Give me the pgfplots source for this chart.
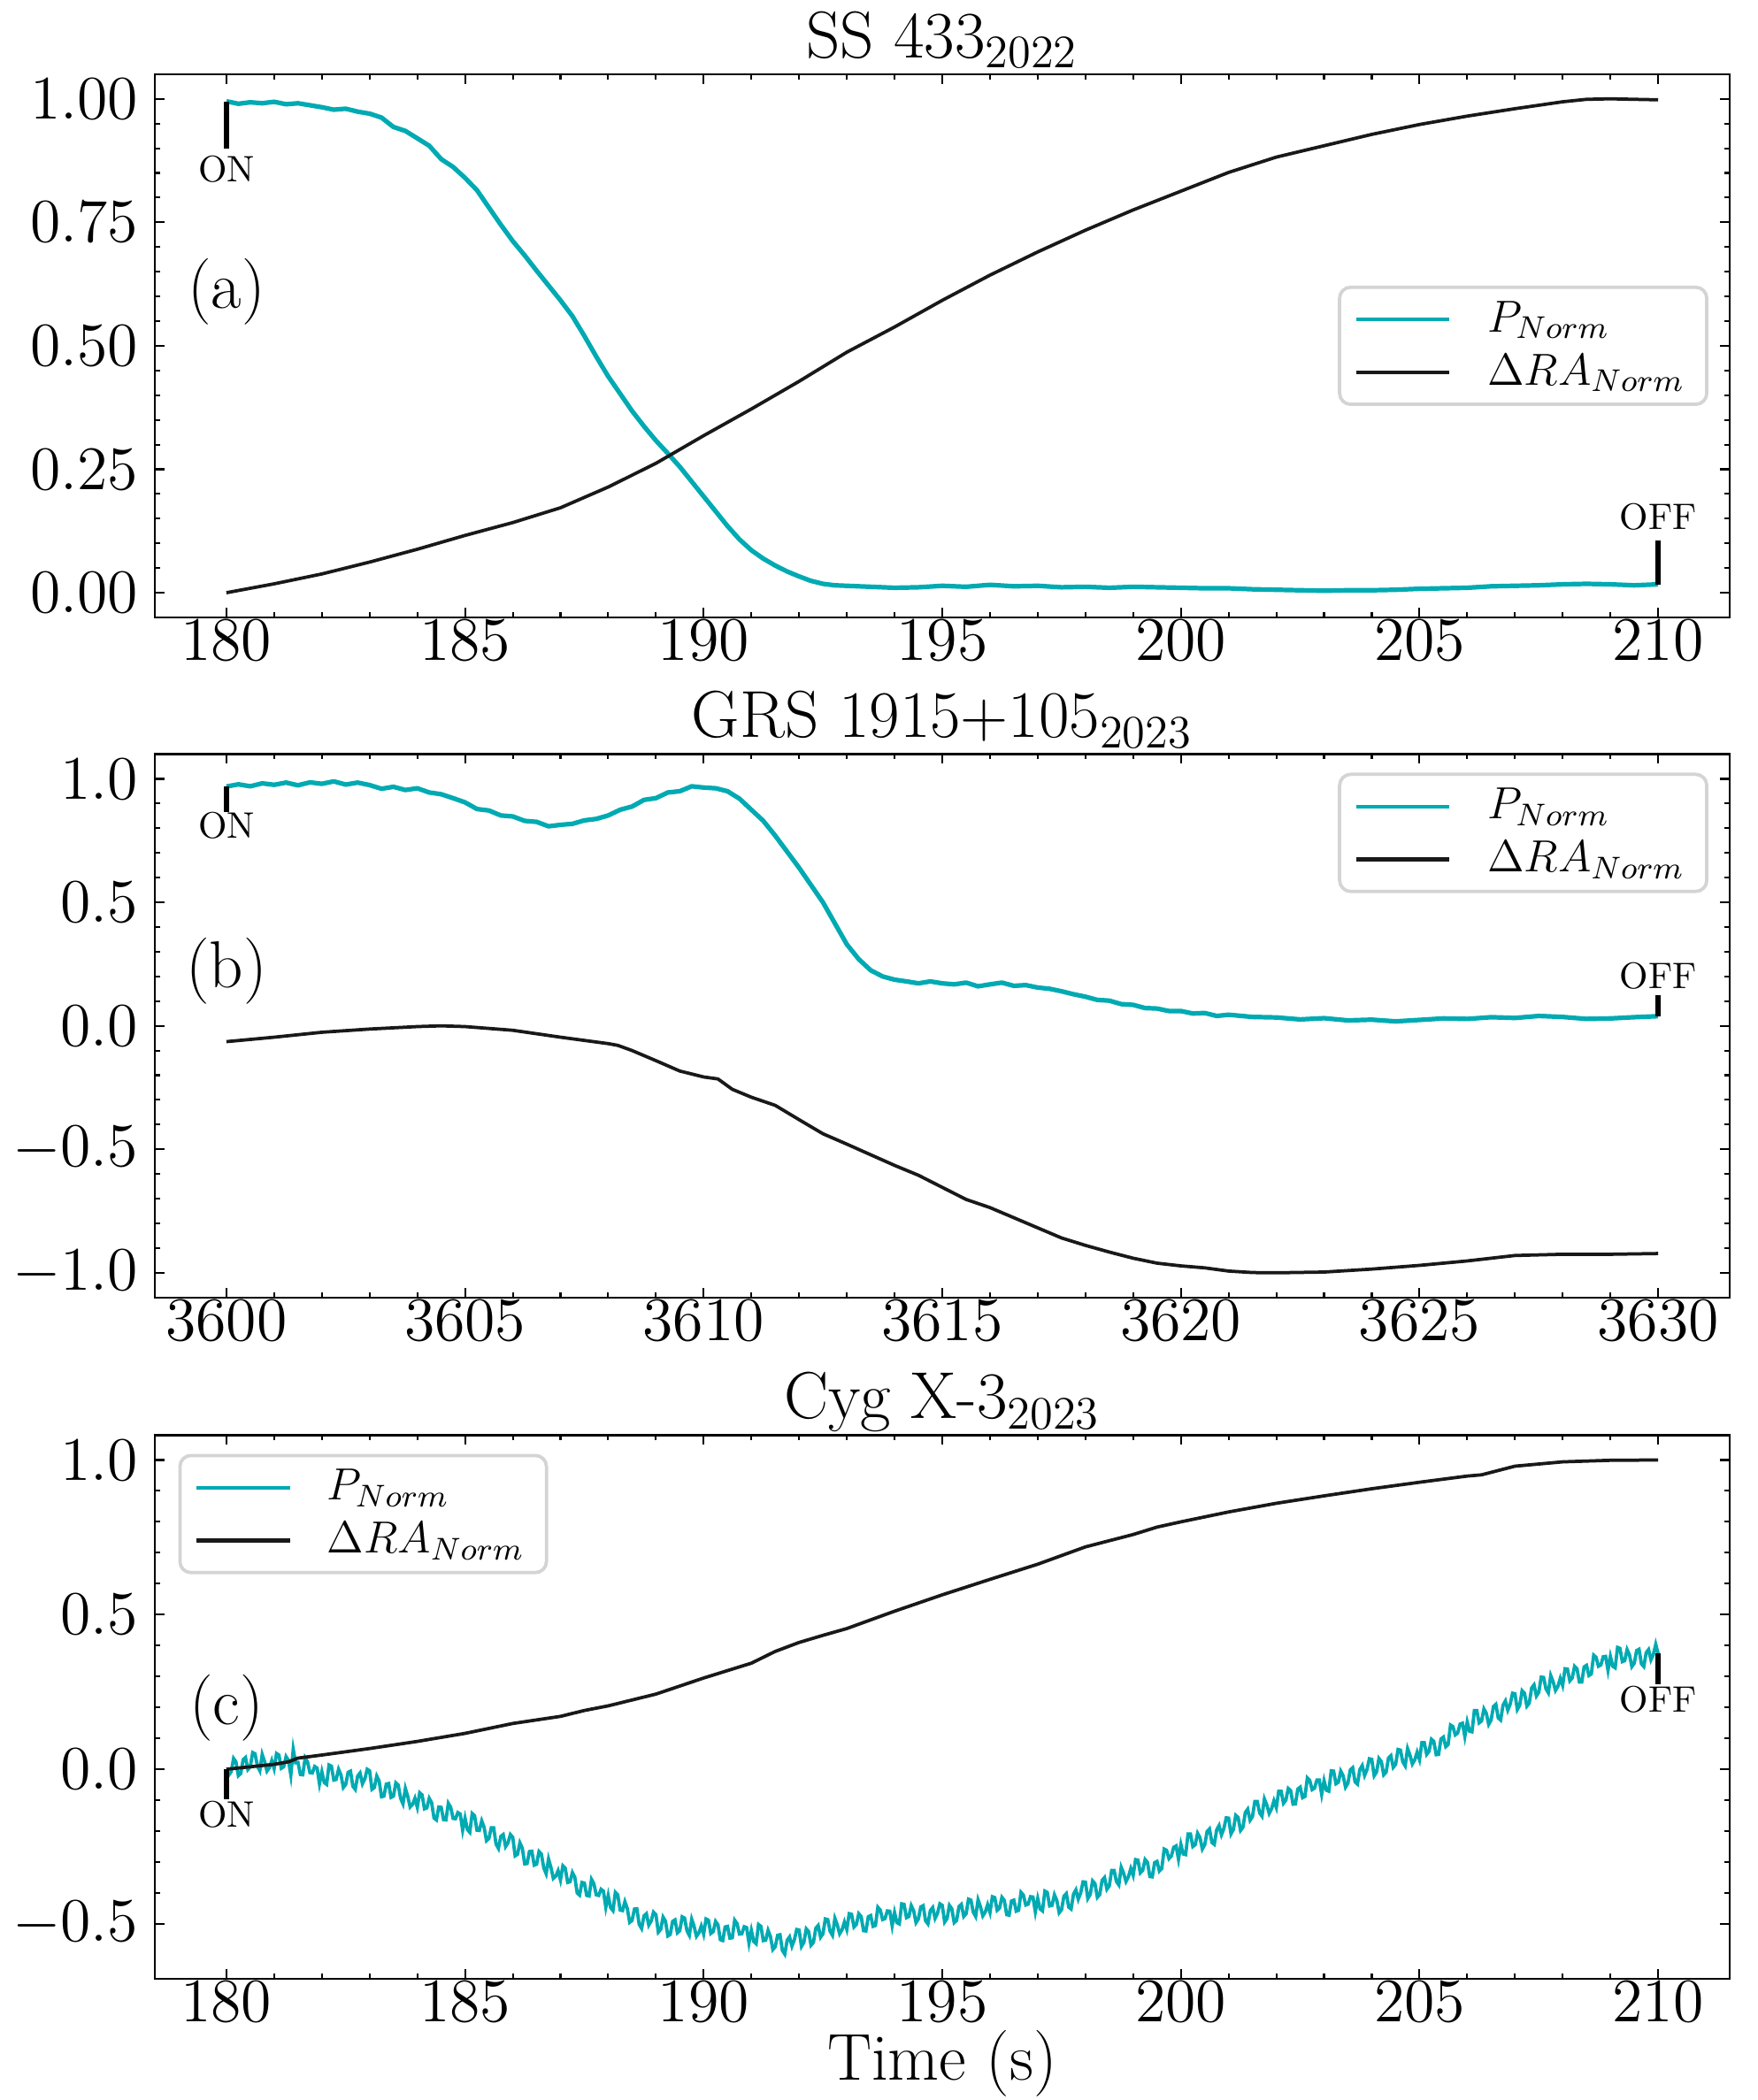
\RequirePackage{fix-cm}
\documentclass[border=0pt]{standalone}
\usepackage{pgfplots}
\pgfplotsset{compat=1.18}
\definecolor{pcyan}{RGB}{0,170,178}
\definecolor{rablack}{RGB}{25,25,25}
\pgfplotsset{
  panel/.style={
    scale only axis, width=427.2pt, height=147.4pt, anchor=south west,
    axis line style={line width=0.55pt, black},
    tick style={line width=0.5pt, black},
    major tick length=2.6pt, minor tick length=1.4pt,
    tick align=inside, xtick pos=both, ytick pos=both,
    minor x tick num=4, minor y tick num=4,
    ticklabel style={font=\fontsize{16.8}{19}\selectfont},
    xticklabel style={anchor=base, yshift=-11.6pt, inner sep=0pt},
    yticklabel style={anchor=east, inner sep=0pt, xshift=-4.3pt},
    title style={font=\fontsize{18}{21}\selectfont, at={(0.5,1)}, anchor=base, yshift=-1.5pt, inner sep=0pt},
    xlabel style={font=\fontsize{18}{21}\selectfont, at={(0.5,0)}, anchor=base, yshift=-27.5pt, inner sep=0pt},
    /pgf/number format/1000 sep={},
    legend style={draw=black!17, line width=0.9pt, rounded corners=3pt, fill=white, fill opacity=0.8, text opacity=1,
      font=\fontsize{12.2}{14}\selectfont, inner xsep=4pt, inner ysep=1.8pt, row sep=0.5pt, cells={anchor=west}},
    legend image code/.code={\draw[#1, line width=1pt] (0pt,0pt) -- (25.3pt,0pt); \path (33pt,0pt);},
  },
  pline/.style={color=pcyan, line width=1.25pt, line join=round},
  rline/.style={color=rablack, line width=0.9pt, line join=round},
  mk/.style={black, line width=1.3pt, forget plot},
}
\newcommand{\onoff}{\fontsize{10}{12}\selectfont}
\newcommand{\plab}{\fontsize{18}{21}\selectfont}
\begin{document}
\begin{tikzpicture}
\path[use as bounding box] (0pt,0pt) rectangle (476.64pt,569.76pt);

% ---------------- panel (a)
\begin{axis}[panel, at={(42pt,402.24pt)},
  xmin=178.5, xmax=211.5, ymin=-0.05, ymax=1.05,
  xtick={180,185,...,210}, ytick={0,0.25,0.5,0.75,1},
  yticklabel style={/pgf/number format/.cd, fixed, fixed zerofill, precision=2},
  title={SS 433$_{2022}$},
  legend style={at={(0.9865,0.5)}, anchor=east}]
\addplot[pline] coordinates {
(180.0,0.995) (180.25,0.990) (180.5,0.993) (180.75,0.991) (181.0,0.994) (181.25,0.989) (181.5,0.991) (181.75,0.987)
(182.0,0.983) (182.25,0.978) (182.5,0.980) (182.75,0.974) (183.0,0.970) (183.25,0.962) (183.5,0.943) (183.75,0.935)
(184.0,0.920) (184.25,0.905) (184.5,0.878) (184.75,0.862) (185.0,0.840) (185.25,0.815) (185.5,0.780) (185.75,0.745)
(186.0,0.712) (186.25,0.683) (186.5,0.652) (186.75,0.622) (187.0,0.592) (187.25,0.560) (187.5,0.520) (187.75,0.478)
(188.0,0.438) (188.25,0.403) (188.5,0.368) (188.75,0.337) (189.0,0.308) (189.25,0.282) (189.5,0.255) (189.75,0.225)
(190.0,0.195) (190.25,0.165) (190.5,0.135) (190.75,0.108) (191.0,0.086) (191.25,0.069) (191.5,0.055) (191.75,0.043)
(192.0,0.033) (192.25,0.024) (192.5,0.018) (192.75,0.015) (193.0,0.014) (193.5,0.012) (194.0,0.010) (194.5,0.011)
(195.0,0.014) (195.5,0.012) (196.0,0.016) (196.5,0.013) (197.0,0.014) (197.5,0.011) (198.0,0.012) (198.5,0.010)
(199.0,0.012) (199.5,0.011) (200.0,0.010) (200.5,0.009) (201.0,0.009) (201.5,0.007) (202.0,0.006) (202.5,0.005)
(203.0,0.004) (203.5,0.005) (204.0,0.005) (204.5,0.006) (205.0,0.008) (205.5,0.009) (206.0,0.010) (206.5,0.013)
(207.0,0.014) (207.5,0.015) (208.0,0.017) (208.5,0.018) (209.0,0.017) (209.5,0.015) (210.0,0.017)
};
\addlegendentry{$P_{Norm}$}
\addplot[rline] coordinates {
(180,0.0) (181,0.018) (182,0.038) (183,0.062) (184,0.088) (185,0.116) (186,0.142) (187,0.172) (188,0.214)
(189,0.262) (190,0.318) (191,0.372) (192,0.428) (193,0.487) (194,0.538) (195,0.592) (196,0.643) (197,0.690)
(198,0.734) (199,0.775) (200,0.813) (201,0.851) (202,0.882) (203,0.905) (204,0.928) (205,0.948) (206,0.965)
(207,0.980) (208,0.994) (208.5,0.999) (209,1.0) (210,0.998)
};
\addlegendentry{$\Delta RA_{Norm}$}
\addplot[mk] coordinates {(180,0.900) (180,0.995)};
\addplot[mk] coordinates {(210,0.017) (210,0.105)};
\node[font=\onoff] at (axis cs:180,0.858) {ON};
\node[font=\onoff] at (axis cs:210,0.154) {OFF};
\node[font=\plab] at (axis cs:180,0.609) {(a)};
\end{axis}

% ---------------- panel (b)
\begin{axis}[panel, at={(42pt,217.73pt)},
  xmin=3598.5, xmax=3631.5, ymin=-1.1, ymax=1.1,
  xtick={3600,3605,...,3630}, ytick={-1,-0.5,0,0.5,1},
  yticklabel style={/pgf/number format/.cd, fixed, fixed zerofill, precision=1},
  title={GRS 1915+105$_{2023}$},
  legend style={at={(0.9865,0.966)}, anchor=north east}]
\addplot[pline] coordinates {
(3600.0,0.969) (3600.25,0.978) (3600.5,0.970) (3600.75,0.982) (3601.0,0.976) (3601.25,0.985) (3601.5,0.974) (3601.75,0.986)
(3602.0,0.980) (3602.25,0.990) (3602.5,0.977) (3602.75,0.985) (3603.0,0.975) (3603.25,0.960) (3603.5,0.968) (3603.75,0.955)
(3604.0,0.962) (3604.25,0.945) (3604.5,0.938) (3604.75,0.922) (3605.0,0.905) (3605.25,0.878) (3605.5,0.872) (3605.75,0.852)
(3606.0,0.848) (3606.25,0.830) (3606.5,0.826) (3606.75,0.808) (3607.0,0.814) (3607.25,0.818) (3607.5,0.832) (3607.75,0.838)
(3608.0,0.852) (3608.25,0.875) (3608.5,0.888) (3608.75,0.915) (3609.0,0.922) (3609.25,0.945) (3609.5,0.950) (3609.75,0.970)
(3610.0,0.965) (3610.25,0.962) (3610.5,0.950) (3610.75,0.920) (3611.0,0.875) (3611.25,0.830) (3611.5,0.770) (3611.75,0.705)
(3612.0,0.640) (3612.25,0.570) (3612.5,0.500) (3612.75,0.415) (3613.0,0.330) (3613.25,0.270) (3613.5,0.225) (3613.75,0.200)
(3614.0,0.187) (3614.25,0.180) (3614.5,0.172) (3614.75,0.180) (3615.0,0.172) (3615.25,0.168) (3615.5,0.175) (3615.75,0.160)
(3616.0,0.168) (3616.25,0.175) (3616.5,0.162) (3616.75,0.165) (3617.0,0.155) (3617.25,0.150) (3617.5,0.140) (3617.75,0.128)
(3618.0,0.118) (3618.25,0.105) (3618.5,0.102) (3618.75,0.088) (3619.0,0.085) (3619.25,0.072) (3619.5,0.070) (3619.75,0.060)
(3620.0,0.060) (3620.25,0.050) (3620.5,0.052) (3620.75,0.040) (3621.0,0.045) (3621.5,0.036) (3622.0,0.034) (3622.5,0.026)
(3623.0,0.031) (3623.5,0.022) (3624.0,0.025) (3624.5,0.018) (3625.0,0.024) (3625.5,0.030) (3626.0,0.028) (3626.5,0.035)
(3627.0,0.032) (3627.5,0.040) (3628.0,0.036) (3628.5,0.028) (3629.0,0.030) (3629.5,0.035) (3630.0,0.039)
};
\addlegendentry{$P_{Norm}$}
\addplot[rline] coordinates {
(3600,-0.064) (3601,-0.046) (3602,-0.026) (3603,-0.013) (3604,-0.003) (3604.5,0.0) (3605,-0.003) (3606,-0.018)
(3607,-0.046) (3608,-0.072) (3608.2,-0.079) (3608.5,-0.100) (3609,-0.141) (3609.5,-0.183) (3610,-0.207) (3610.3,-0.215)
(3610.6,-0.257) (3611,-0.289) (3611.5,-0.322) (3612,-0.380) (3612.5,-0.437) (3613,-0.479) (3613.5,-0.522) (3614,-0.565)
(3614.5,-0.605) (3615,-0.654) (3615.5,-0.703) (3616,-0.736) (3616.5,-0.777) (3617,-0.818) (3617.5,-0.859) (3618,-0.889)
(3618.5,-0.916) (3619,-0.941) (3619.5,-0.961) (3620,-0.972) (3620.5,-0.980) (3621,-0.993) (3621.5,-0.999) (3622,-1.0)
(3623,-0.997) (3624,-0.985) (3625,-0.970) (3626,-0.952) (3627,-0.930) (3628,-0.925) (3629,-0.925) (3630,-0.922)
};
\addlegendentry{$\Delta RA_{Norm}$}
\addplot[mk] coordinates {(3600,0.865) (3600,0.969)};
\addplot[mk] coordinates {(3630,0.039) (3630,0.125)};
\node[font=\onoff] at (axis cs:3600,0.81) {ON};
\node[font=\onoff] at (axis cs:3630,0.203) {OFF};
\node[font=\plab] at (axis cs:3600,0.22) {(b)};
\end{axis}

% ---------------- panel (c)
\begin{axis}[panel, at={(42pt,32.93pt)},
  xmin=178.5, xmax=211.5, ymin=-0.677, ymax=1.0797,
  xtick={180,185,...,210}, ytick={-0.5,0,0.5,1},
  yticklabel style={/pgf/number format/.cd, fixed, fixed zerofill, precision=1},
  title={Cyg X-3$_{2023}$}, xlabel={Time (s)},
  legend style={at={(0.0149,0.966)}, anchor=north west}]
\addplot[pline, line width=0.9pt, line join=miter] coordinates {
(180.0,0.000) (180.05,-0.019) (180.1,-0.008) (180.15,0.035) (180.2,0.024) (180.25,-0.021) (180.3,-0.014) (180.35,0.031) (180.4,0.038) (180.45,-0.001) (180.5,0.008) (180.55,0.054) (180.6,0.050) (180.65,0.010) (180.7,-0.005) (180.75,0.048) (180.8,0.025) (180.85,-0.006) (180.9,0.005) (180.95,0.028)
(181.0,0.002) (181.05,0.051) (181.1,0.046) (181.15,0.003) (181.2,0.008) (181.25,0.041) (181.3,0.029) (181.35,-0.019) (181.4,0.065) (181.45,0.021) (181.5,0.022) (181.55,-0.017) (181.6,-0.018) (181.65,0.037) (181.7,0.024) (181.75,-0.011) (181.8,-0.012) (181.85,0.009) (181.9,0.004) (181.95,-0.047)
(182.0,-0.008) (182.05,-0.043) (182.1,-0.049) (182.15,0.014) (182.2,0.010) (182.25,-0.035) (182.3,-0.033) (182.35,0.000) (182.4,-0.018) (182.45,-0.059) (182.5,-0.049) (182.55,-0.010) (182.6,-0.006) (182.65,-0.055) (182.7,-0.065) (182.75,-0.022) (182.8,-0.012) (182.85,-0.047) (182.9,-0.031) (182.95,0.000)
(183.0,-0.005) (183.05,-0.065) (183.1,-0.059) (183.15,-0.022) (183.2,-0.038) (183.25,-0.089) (183.3,-0.087) (183.35,-0.048) (183.4,-0.046) (183.45,-0.091) (183.5,-0.087) (183.55,-0.044) (183.6,-0.051) (183.65,-0.094) (183.7,-0.112) (183.75,-0.062) (183.8,-0.088) (183.85,-0.122) (183.9,-0.114) (183.95,-0.094)
(184.0,-0.123) (184.05,-0.076) (184.1,-0.083) (184.15,-0.128) (184.2,-0.125) (184.25,-0.094) (184.3,-0.108) (184.35,-0.158) (184.4,-0.164) (184.45,-0.122) (184.5,-0.123) (184.55,-0.163) (184.6,-0.164) (184.65,-0.110) (184.7,-0.123) (184.75,-0.159) (184.8,-0.160) (184.85,-0.140) (184.9,-0.145) (184.95,-0.197)
(185.0,-0.158) (185.05,-0.195) (185.1,-0.204) (185.15,-0.143) (185.2,-0.150) (185.25,-0.197) (185.3,-0.198) (185.35,-0.167) (185.4,-0.188) (185.45,-0.231) (185.5,-0.224) (185.55,-0.189) (185.6,-0.189) (185.65,-0.242) (185.7,-0.256) (185.75,-0.217) (185.8,-0.211) (185.85,-0.250) (185.9,-0.238) (185.95,-0.211)
(186.0,-0.220) (186.05,-0.280) (186.1,-0.275) (186.15,-0.238) (186.2,-0.255) (186.25,-0.306) (186.3,-0.305) (186.35,-0.266) (186.4,-0.265) (186.45,-0.310) (186.5,-0.307) (186.55,-0.266) (186.6,-0.274) (186.65,-0.319) (186.7,-0.338) (186.75,-0.290) (186.8,-0.317) (186.85,-0.353) (186.9,-0.346) (186.95,-0.328)
(187.0,-0.358) (187.05,-0.312) (187.1,-0.320) (187.15,-0.366) (187.2,-0.364) (187.25,-0.334) (187.3,-0.349) (187.35,-0.400) (187.4,-0.407) (187.45,-0.366) (187.5,-0.368) (187.55,-0.408) (187.6,-0.410) (187.65,-0.356) (187.7,-0.370) (187.75,-0.406) (187.8,-0.408) (187.85,-0.388) (187.9,-0.394) (187.95,-0.446)
(188.0,-0.408) (188.05,-0.447) (188.1,-0.457) (188.15,-0.398) (188.2,-0.406) (188.25,-0.455) (188.3,-0.457) (188.35,-0.428) (188.4,-0.450) (188.45,-0.495) (188.5,-0.489) (188.55,-0.452) (188.6,-0.451) (188.65,-0.502) (188.7,-0.515) (188.75,-0.474) (188.8,-0.467) (188.85,-0.504) (188.9,-0.491) (188.95,-0.462)
(189.0,-0.470) (189.05,-0.527) (189.1,-0.518) (189.15,-0.478) (189.2,-0.491) (189.25,-0.539) (189.3,-0.534) (189.35,-0.492) (189.4,-0.487) (189.45,-0.529) (189.5,-0.522) (189.55,-0.477) (189.6,-0.481) (189.65,-0.522) (189.7,-0.537) (189.75,-0.485) (189.8,-0.508) (189.85,-0.540) (189.9,-0.529) (189.95,-0.507)
(190.0,-0.533) (190.05,-0.484) (190.1,-0.488) (190.15,-0.531) (190.2,-0.525) (190.25,-0.492) (190.3,-0.503) (190.35,-0.551) (190.4,-0.554) (190.45,-0.510) (190.5,-0.508) (190.55,-0.546) (190.6,-0.545) (190.65,-0.488) (190.7,-0.499) (190.75,-0.533) (190.8,-0.532) (190.85,-0.509) (190.9,-0.512) (190.95,-0.562)
(191.0,-0.521) (191.05,-0.557) (191.1,-0.564) (191.15,-0.502) (191.2,-0.508) (191.25,-0.554) (191.3,-0.553) (191.35,-0.521) (191.4,-0.541) (191.45,-0.583) (191.5,-0.574) (191.55,-0.537) (191.6,-0.535) (191.65,-0.586) (191.7,-0.598) (191.75,-0.553) (191.8,-0.542) (191.85,-0.572) (191.9,-0.552) (191.95,-0.518)
(192.0,-0.520) (192.05,-0.573) (192.1,-0.560) (192.15,-0.516) (192.2,-0.525) (192.25,-0.569) (192.3,-0.560) (192.35,-0.514) (192.4,-0.505) (192.45,-0.543) (192.5,-0.532) (192.55,-0.484) (192.6,-0.486) (192.65,-0.524) (192.7,-0.537) (192.75,-0.482) (192.8,-0.503) (192.85,-0.532) (192.9,-0.519) (192.95,-0.494)
(193.0,-0.518) (193.05,-0.467) (193.1,-0.469) (193.15,-0.510) (193.2,-0.502) (193.25,-0.467) (193.3,-0.476) (193.35,-0.522) (193.4,-0.523) (193.45,-0.477) (193.5,-0.473) (193.55,-0.508) (193.6,-0.505) (193.65,-0.446) (193.7,-0.455) (193.75,-0.486) (193.8,-0.483) (193.85,-0.458) (193.9,-0.459) (193.95,-0.506)
(194.0,-0.463) (194.05,-0.496) (194.1,-0.500) (194.15,-0.435) (194.2,-0.437) (194.25,-0.480) (194.3,-0.476) (194.35,-0.441) (194.4,-0.457) (194.45,-0.496) (194.5,-0.484) (194.55,-0.445) (194.6,-0.441) (194.65,-0.490) (194.7,-0.500) (194.75,-0.457) (194.8,-0.447) (194.85,-0.482) (194.9,-0.466) (194.95,-0.435)
(195.0,-0.440) (195.05,-0.494) (195.1,-0.483) (195.15,-0.440) (195.2,-0.451) (195.25,-0.496) (195.3,-0.489) (195.35,-0.444) (195.4,-0.437) (195.45,-0.476) (195.5,-0.467) (195.55,-0.420) (195.6,-0.423) (195.65,-0.462) (195.7,-0.476) (195.75,-0.422) (195.8,-0.444) (195.85,-0.474) (195.9,-0.462) (195.95,-0.438)
(196.0,-0.463) (196.05,-0.412) (196.1,-0.415) (196.15,-0.456) (196.2,-0.449) (196.25,-0.414) (196.3,-0.424) (196.35,-0.470) (196.4,-0.472) (196.45,-0.426) (196.5,-0.423) (196.55,-0.459) (196.6,-0.456) (196.65,-0.398) (196.7,-0.407) (196.75,-0.439) (196.8,-0.436) (196.85,-0.412) (196.9,-0.413) (196.95,-0.461)
(197.0,-0.418) (197.05,-0.452) (197.1,-0.458) (197.15,-0.394) (197.2,-0.398) (197.25,-0.442) (197.3,-0.440) (197.35,-0.406) (197.4,-0.424) (197.45,-0.464) (197.5,-0.454) (197.55,-0.410) (197.6,-0.402) (197.65,-0.446) (197.7,-0.452) (197.75,-0.404) (197.8,-0.390) (197.85,-0.420) (197.9,-0.400) (197.95,-0.364)
(198.0,-0.365) (198.05,-0.418) (198.1,-0.405) (198.15,-0.361) (198.2,-0.370) (198.25,-0.414) (198.3,-0.405) (198.35,-0.359) (198.4,-0.350) (198.45,-0.388) (198.5,-0.377) (198.55,-0.327) (198.6,-0.327) (198.65,-0.363) (198.7,-0.374) (198.75,-0.317) (198.8,-0.336) (198.85,-0.363) (198.9,-0.348) (198.95,-0.321)
(199.0,-0.343) (199.05,-0.292) (199.1,-0.294) (199.15,-0.335) (199.2,-0.327) (199.25,-0.292) (199.3,-0.301) (199.35,-0.347) (199.4,-0.348) (199.45,-0.302) (199.5,-0.298) (199.55,-0.329) (199.6,-0.321) (199.65,-0.258) (199.7,-0.262) (199.75,-0.289) (199.8,-0.281) (199.85,-0.252) (199.9,-0.248) (199.95,-0.291)
(200.0,-0.243) (200.05,-0.274) (200.1,-0.276) (200.15,-0.209) (200.2,-0.209) (200.25,-0.250) (200.3,-0.244) (200.35,-0.207) (200.4,-0.221) (200.45,-0.258) (200.5,-0.244) (200.55,-0.201) (200.6,-0.193) (200.65,-0.237) (200.7,-0.243) (200.75,-0.196) (200.8,-0.182) (200.85,-0.212) (200.9,-0.192) (200.95,-0.157)
(201.0,-0.158) (201.05,-0.209) (201.1,-0.195) (201.15,-0.149) (201.2,-0.156) (201.25,-0.198) (201.3,-0.188) (201.35,-0.140) (201.4,-0.129) (201.45,-0.165) (201.5,-0.153) (201.55,-0.104) (201.6,-0.104) (201.65,-0.141) (201.7,-0.152) (201.75,-0.096) (201.8,-0.115) (201.85,-0.143) (201.9,-0.128) (201.95,-0.102)
(202.0,-0.124) (202.05,-0.071) (202.1,-0.071) (202.15,-0.110) (202.2,-0.100) (202.25,-0.062) (202.3,-0.069) (202.35,-0.113) (202.4,-0.112) (202.45,-0.064) (202.5,-0.058) (202.55,-0.092) (202.6,-0.088) (202.65,-0.028) (202.7,-0.036) (202.75,-0.066) (202.8,-0.061) (202.85,-0.035) (202.9,-0.035) (202.95,-0.081)
(203.0,-0.037) (203.05,-0.068) (203.1,-0.071) (203.15,-0.005) (203.2,-0.006) (203.25,-0.047) (203.3,-0.042) (203.35,-0.006) (203.4,-0.021) (203.45,-0.058) (203.5,-0.045) (203.55,-0.002) (203.6,0.005) (203.65,-0.041) (203.7,-0.048) (203.75,-0.001) (203.8,0.012) (203.85,-0.020) (203.9,-0.001) (203.95,0.034)
(204.0,0.032) (204.05,-0.021) (204.1,-0.009) (204.15,0.035) (204.2,0.025) (204.25,-0.018) (204.3,-0.010) (204.35,0.036) (204.4,0.044) (204.45,0.006) (204.5,0.016) (204.55,0.064) (204.6,0.062) (204.65,0.024) (204.7,0.011) (204.75,0.067) (204.8,0.046) (204.85,0.017) (204.9,0.030) (204.95,0.055)
(205.0,0.031) (205.05,0.086) (205.1,0.086) (205.15,0.048) (205.2,0.058) (205.25,0.097) (205.3,0.090) (205.35,0.047) (205.4,0.048) (205.45,0.098) (205.5,0.104) (205.55,0.073) (205.6,0.080) (205.65,0.143) (205.7,0.138) (205.75,0.111) (205.8,0.117) (205.85,0.146) (205.9,0.149) (205.95,0.106)
(206.0,0.153) (206.05,0.123) (206.1,0.121) (206.15,0.190) (206.2,0.190) (206.25,0.150) (206.3,0.156) (206.35,0.195) (206.4,0.181) (206.45,0.145) (206.5,0.159) (206.55,0.203) (206.6,0.210) (206.65,0.166) (206.7,0.159) (206.75,0.207) (206.8,0.221) (206.85,0.191) (206.9,0.210) (206.95,0.246)
(207.0,0.244) (207.05,0.193) (207.1,0.207) (207.15,0.254) (207.2,0.246) (207.25,0.204) (207.3,0.214) (207.35,0.263) (207.4,0.273) (207.45,0.237) (207.5,0.249) (207.55,0.298) (207.6,0.297) (207.65,0.260) (207.7,0.247) (207.75,0.303) (207.8,0.283) (207.85,0.255) (207.9,0.268) (207.95,0.294)
(208.0,0.271) (208.05,0.325) (208.1,0.324) (208.15,0.286) (208.2,0.295) (208.25,0.333) (208.3,0.325) (208.35,0.282) (208.4,0.282) (208.45,0.331) (208.5,0.336) (208.55,0.303) (208.6,0.308) (208.65,0.369) (208.7,0.362) (208.75,0.333) (208.8,0.337) (208.85,0.364) (208.9,0.365) (208.95,0.320)
(209.0,0.365) (209.05,0.333) (209.1,0.328) (209.15,0.394) (209.2,0.391) (209.25,0.348) (209.3,0.351) (209.35,0.387) (209.4,0.370) (209.45,0.332) (209.5,0.343) (209.55,0.384) (209.6,0.388) (209.65,0.341) (209.7,0.332) (209.75,0.377) (209.8,0.387) (209.85,0.354) (209.9,0.371) (209.95,0.404)
(210.0,0.374)
};
\addlegendentry{$P_{Norm}$}
\addplot[rline] coordinates {
(180,0.0) (181,0.016) (181.3,0.024) (181.5,0.036) (182,0.046) (183,0.067) (184,0.090) (185,0.116) (186,0.148)
(187,0.171) (187.5,0.19) (188,0.205) (189,0.243) (190,0.295) (191,0.343) (191.5,0.381) (192,0.41) (192.5,0.433)
(193,0.455) (194,0.511) (195,0.564) (196,0.614) (197,0.663) (198,0.719) (199,0.759) (199.5,0.783) (200,0.800)
(201,0.832) (202,0.860) (203,0.884) (204,0.907) (205,0.928) (206,0.948) (206.3,0.952) (207,0.980) (208,0.994) (209,0.999) (210,1.0)
};
\addlegendentry{$\Delta RA_{Norm}$}
\addplot[mk] coordinates {(180,-0.096) (180,0.0)};
\addplot[mk] coordinates {(210,0.275) (210,0.374)};
\node[font=\onoff] at (axis cs:180,-0.146) {ON};
\node[font=\onoff] at (axis cs:210,0.226) {OFF};
\node[font=\plab] at (axis cs:180,0.197) {(c)};
\end{axis}
\end{tikzpicture}
\end{document}
